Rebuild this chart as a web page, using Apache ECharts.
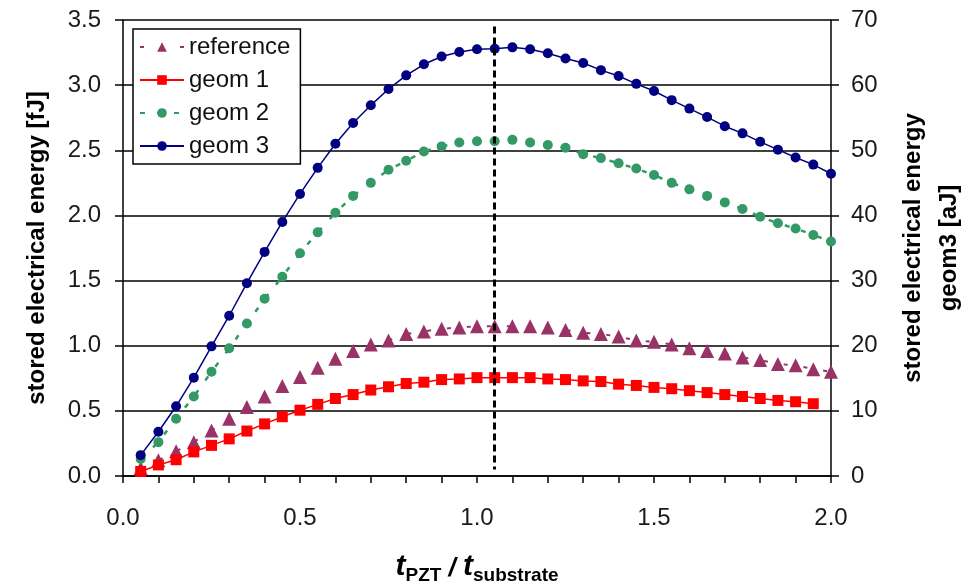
<!DOCTYPE html>
<html>
<head>
<meta charset="UTF-8">
<title>stored electrical energy</title>
<script src="https://cdn.jsdelivr.net/npm/echarts@6/dist/echarts.min.js"></script>
<style>
    html, body { margin: 0; padding: 0; background: #fff; }
    #main { width: 973px; height: 584px; }
</style>
</head>
<body>
<div id="main"></div>
<script>
// t_PZT / t_substrate
var tRatio = [0.05, 0.10, 0.15, 0.20, 0.25, 0.30, 0.35, 0.40, 0.45, 0.50,
              0.55, 0.60, 0.65, 0.70, 0.75, 0.80, 0.85, 0.90, 0.95, 1.00,
              1.05, 1.10, 1.15, 1.20, 1.25, 1.30, 1.35, 1.40, 1.45, 1.50,
              1.55, 1.60, 1.65, 1.70, 1.75, 1.80, 1.85, 1.90, 1.95, 2.00];

// fJ, left axis
var reference = [0.06, 0.12, 0.19, 0.26, 0.35, 0.44, 0.53, 0.61, 0.69, 0.76,
                 0.83, 0.90, 0.96, 1.01, 1.04, 1.09, 1.11, 1.13, 1.14, 1.15,
                 1.15, 1.15, 1.15, 1.14, 1.12, 1.10, 1.09, 1.07, 1.04, 1.03,
                 1.01, 0.98, 0.96, 0.94, 0.91, 0.89, 0.86, 0.85, 0.82, 0.80];
var geom1 = [0.035, 0.085, 0.125, 0.185, 0.235, 0.285, 0.345, 0.40, 0.455, 0.505,
             0.55, 0.595, 0.625, 0.66, 0.685, 0.71, 0.72, 0.74, 0.745, 0.755,
             0.755, 0.755, 0.755, 0.745, 0.74, 0.73, 0.725, 0.705, 0.695, 0.68,
             0.67, 0.655, 0.64, 0.625, 0.61, 0.595, 0.58, 0.57, 0.555];
var geom2 = [0.13, 0.26, 0.44, 0.61, 0.80, 0.98, 1.17, 1.36, 1.53, 1.71,
             1.87, 2.02, 2.15, 2.25, 2.35, 2.42, 2.49, 2.53, 2.56, 2.57,
             2.57, 2.58, 2.56, 2.54, 2.52, 2.47, 2.44, 2.40, 2.36, 2.31,
             2.25, 2.20, 2.15, 2.10, 2.05, 1.99, 1.94, 1.90, 1.85, 1.80];
// aJ, right axis
var geom3 = [3.2, 6.8, 10.7, 15.1, 19.9, 24.6, 29.6, 34.4, 39.0, 43.3,
             47.3, 51.0, 54.2, 56.9, 59.4, 61.5, 63.2, 64.4, 65.1, 65.5,
             65.6, 65.8, 65.5, 64.9, 64.1, 63.4, 62.3, 61.4, 60.2, 59.1,
             57.7, 56.4, 55.1, 53.7, 52.6, 51.3, 50.1, 48.9, 47.8, 46.4];

var optimumRatio = 1.05;
var markerTop = 3.45, markerBottom = 0.05;

function pairs(ys) {
    return ys.map(function (y, i) { return [tRatio[i], y]; });
}

var chart = echarts.init(document.getElementById('main'));
var FONT = 'Liberation Sans, Arial, sans-serif';
var axisFont = { fontFamily: FONT, fontSize: 24, color: '#1a1a1a' };

var option = {
    animation: false,
    backgroundColor: '#fff',
    grid: { left: 123, right: 142, top: 20, bottom: 108, outerBoundsMode: 'none' },
    legend: {
        left: 133, top: 29,
        orient: 'vertical',
        backgroundColor: '#fff',
        borderColor: '#000', borderWidth: 1.5, borderRadius: 0,
        padding: [6, 10, 6, 6],
        itemWidth: 44, itemHeight: 12, itemGap: 9,
        textStyle: { fontFamily: FONT, fontSize: 24, color: '#111' },
        data: ['reference', 'geom 1', 'geom 2', 'geom 3']
    },
    xAxis: {
        type: 'value', min: 0, max: 2, interval: 0.5,
        name: '{t|t}{s|PZT}{sl| / }{t|t}{s|substrate}',
        nameLocation: 'middle', nameGap: 76,
        nameTextStyle: {
            rich: {
                t: { fontFamily: FONT, fontSize: 30, fontWeight: 'bold', fontStyle: 'italic', color: '#000', verticalAlign: 'bottom' },
                s: { fontFamily: FONT, fontSize: 19, fontWeight: 'bold', color: '#000', verticalAlign: 'bottom', padding: [0, 0, -3, 0] },
                sl: { fontFamily: FONT, fontSize: 26, fontWeight: 'bold', fontStyle: 'italic', color: '#000', verticalAlign: 'bottom' }
            }
        },
        axisLine: { lineStyle: { color: '#000', width: 1.5 } },
        axisTick: { length: 7, lineStyle: { color: '#000', width: 1.5 } },
        minorTick: { show: true, splitNumber: 5, length: 7, lineStyle: { color: '#000', width: 1.5 } },
        axisLabel: Object.assign({ margin: 30, formatter: function (v) { return v.toFixed(1); } }, axisFont),
        splitLine: { show: false }
    },
    yAxis: [{
        type: 'value', min: 0, max: 3.5, interval: 0.5,
        name: 'stored electrical energy [fJ]',
        nameLocation: 'middle', nameGap: 74,
        nameTextStyle: { fontFamily: FONT, fontSize: 24, fontWeight: 'bold', color: '#000' },
        axisLine: { show: true, lineStyle: { color: '#000', width: 1.5 } },
        axisTick: { show: true, length: 8, lineStyle: { color: '#000', width: 1.5 } },
        axisLabel: Object.assign({ margin: 22, formatter: function (v) { return v.toFixed(1); } }, axisFont),
        splitLine: { show: true, lineStyle: { color: '#000', width: 1.5 } }
    }, {
        type: 'value', min: 0, max: 70, interval: 10,
        position: 'right',
        name: 'stored electrical energy\ngeom3 [aJ]',
        nameLocation: 'middle', nameGap: 64,
        nameTextStyle: { fontFamily: FONT, fontSize: 24, fontWeight: 'bold', color: '#000', lineHeight: 36 },
        axisLine: { show: true, lineStyle: { color: '#000', width: 1.5 } },
        axisTick: { show: true, length: 8, lineStyle: { color: '#000', width: 1.5 } },
        axisLabel: Object.assign({ margin: 20 }, axisFont),
        splitLine: { show: false }
    }],
    series: [{
        name: 'reference', type: 'line', data: pairs(reference),
        symbol: 'triangle', symbolSize: 14,
        itemStyle: { color: '#993366' },
        lineStyle: { color: '#993366', width: 2, type: [4, 16] },
        markLine: {
            silent: true, symbol: 'none', label: { show: false },
            lineStyle: { color: '#000', width: 3, type: [7, 4] },
            data: [[{ coord: [optimumRatio, markerTop] }, { coord: [optimumRatio, markerBottom] }]]
        }
    }, {
        name: 'geom 1', type: 'line', data: pairs(geom1),
        symbol: 'rect', symbolSize: 11,
        itemStyle: { color: '#ff0000' },
        lineStyle: { color: '#ff0000', width: 1.5 }
    }, {
        name: 'geom 2', type: 'line', data: pairs(geom2),
        symbol: 'circle', symbolSize: 10,
        itemStyle: { color: '#339966' },
        lineStyle: { color: '#339966', width: 2.5, type: [5, 12] }
    }, {
        name: 'geom 3', type: 'line', yAxisIndex: 1, data: pairs(geom3),
        symbol: 'circle', symbolSize: 10,
        itemStyle: { color: '#000080' },
        lineStyle: { color: '#000080', width: 1.5 }
    }]
};

chart.setOption(option);
</script>
</body>
</html>
